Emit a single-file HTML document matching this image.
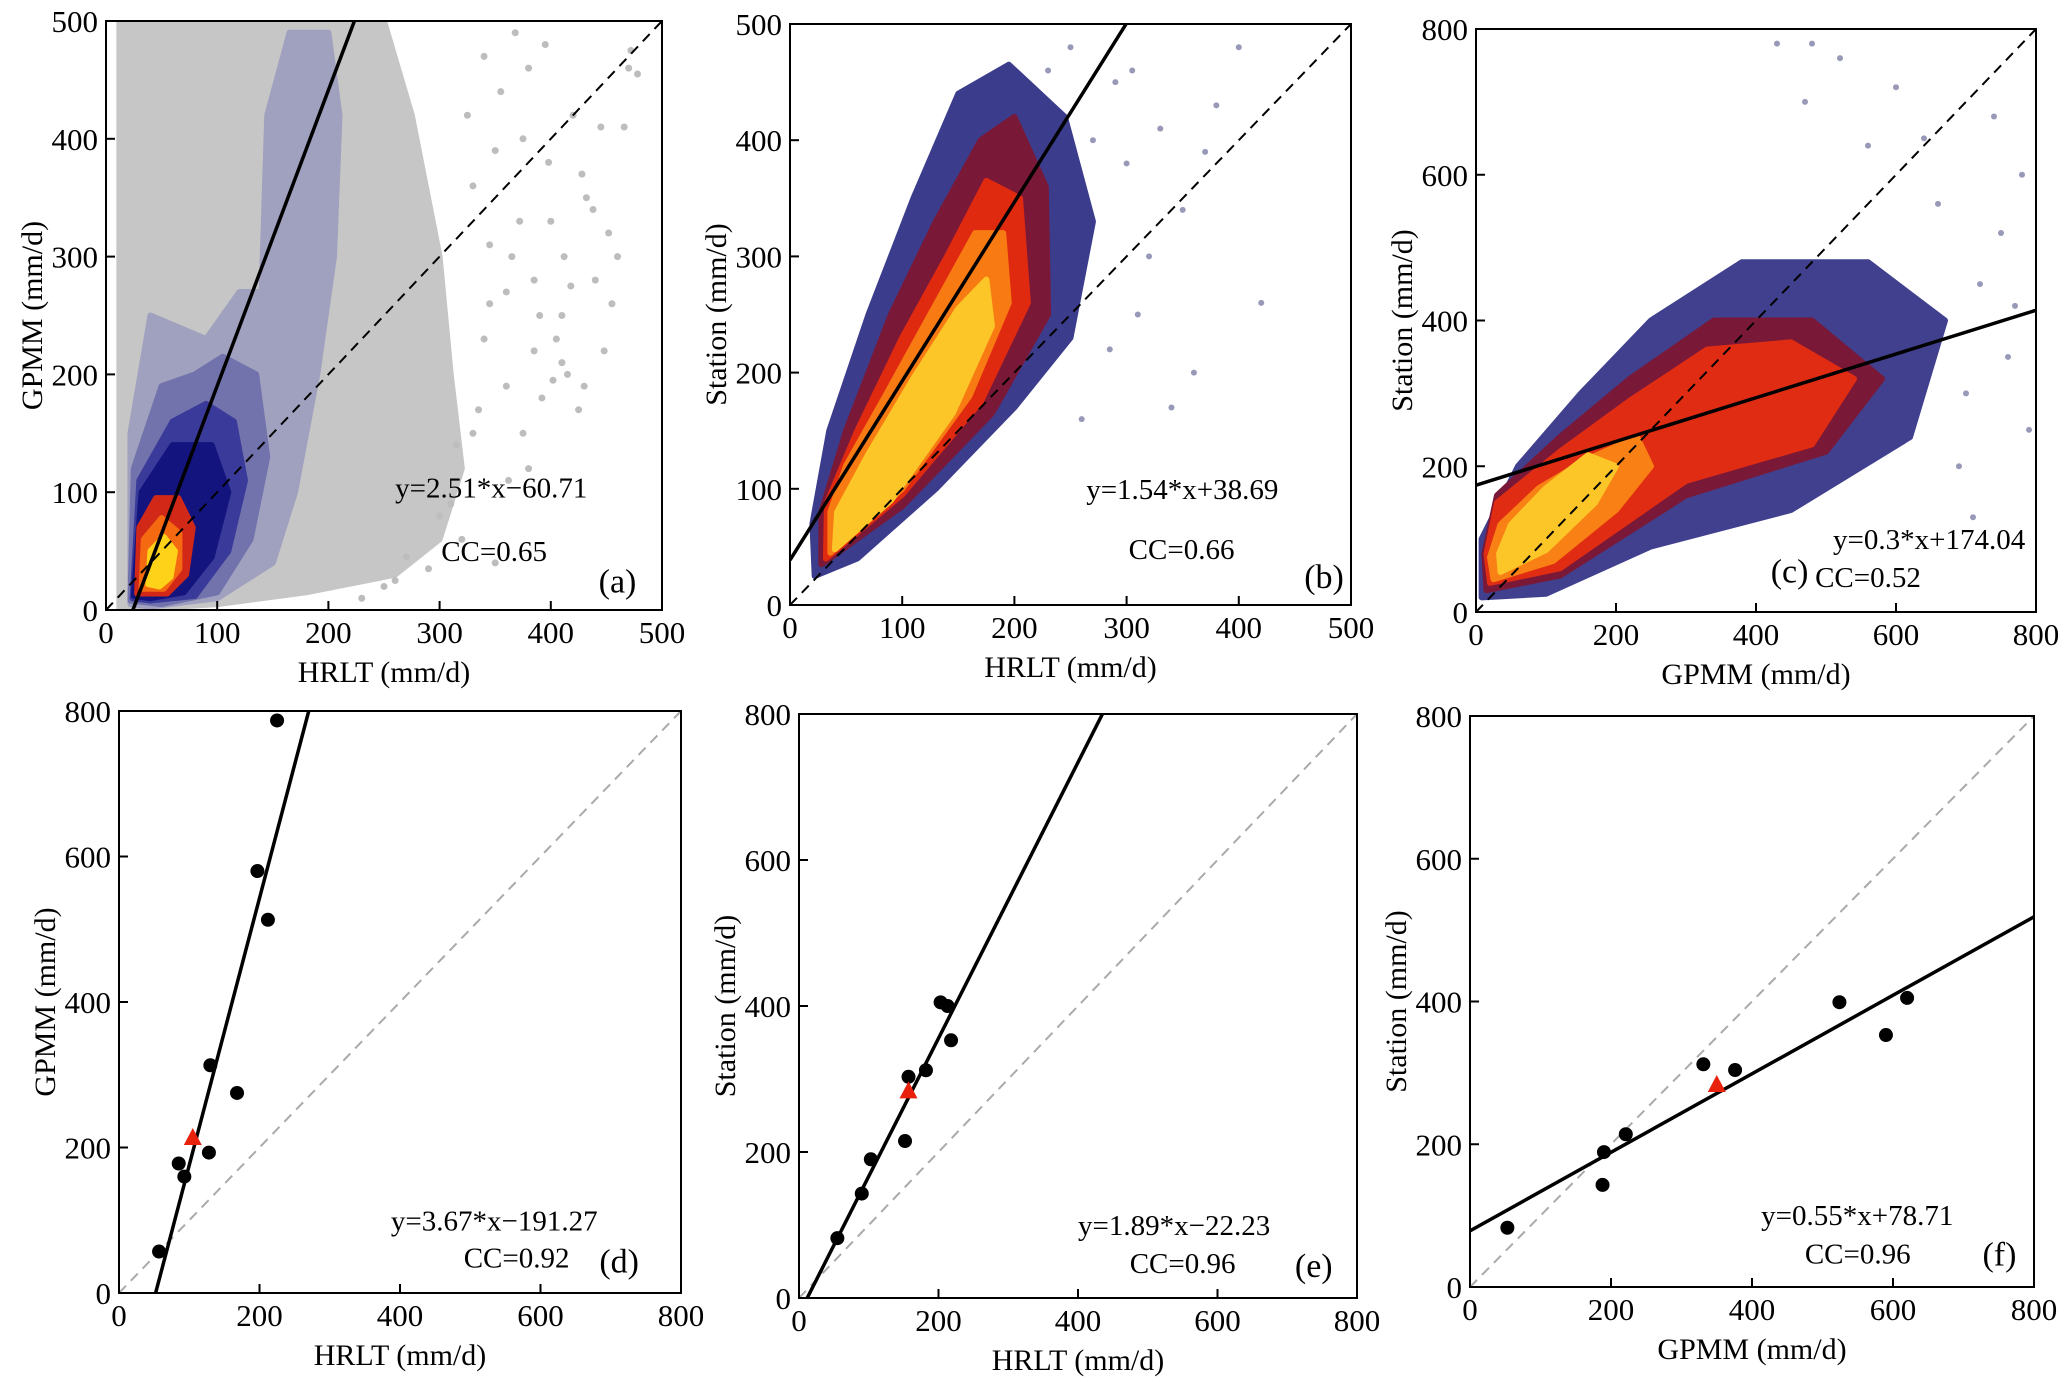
<!DOCTYPE html>
<html><head><meta charset="utf-8"><style>
html,body{margin:0;padding:0;background:#fff}
svg{display:block;font-family:"Liberation Serif",serif}
</style></head><body>
<svg id="fig" width="2067" height="1387" viewBox="0 0 2067 1387" xmlns="http://www.w3.org/2000/svg"></svg>
<script>
// ---------- data ----------
const panelLabels = ["(a)","(b)","(c)","(d)","(e)","(f)"];
const xTitles = ["HRLT (mm/d)","HRLT (mm/d)","GPMM (mm/d)","HRLT (mm/d)","HRLT (mm/d)","GPMM (mm/d)"];
const yTitles = ["GPMM (mm/d)","Station (mm/d)","Station (mm/d)","GPMM (mm/d)","Station (mm/d)","Station (mm/d)"];
const axisMax = [500,500,800,800,800,800];
const ticks500 = [0,100,200,300,400,500];
const ticks800 = [0,200,400,600,800];
const slopes = [2.51,1.54,0.3,3.67,1.89,0.55];
const intercepts = [-60.71,38.69,174.04,-191.27,-22.23,78.71];
const eqTexts = ["y=2.51*x\u221260.71","y=1.54*x+38.69","y=0.3*x+174.04","y=3.67*x\u2212191.27","y=1.89*x\u221222.23","y=0.55*x+78.71"];
const ccTexts = ["CC=0.65","CC=0.66","CC=0.52","CC=0.92","CC=0.96","CC=0.96"];

// station scatter (d,e,f)
const dX = [57,85,93,128,130,168,197,212,225];
const dY = [57,178,160,193,313,275,580,513,787];
const dTri = [105,213];
const eX = [55,90,103,152,157,182,203,213,218];
const eY = [82,143,190,215,303,312,405,400,353];
const eTri = [157,283];
const fX = [53,190,188,221,331,376,524,590,620];
const fY = [83,189,143,214,312,304,399,353,405];
const fTri = [350,283];

// density regions (data coordinates, x/y pairs)
const aGrey = [[12,0],[12,500],[250,500],[275,420],[300,300],[310,200],[320,120],[300,60],[260,30],[180,15],[100,5]];
const aLav = [[22,5],[22,150],[40,250],[90,230],[120,270],[140,270],[145,420],[165,490],[200,490],[210,420],[205,300],[190,200],[170,100],[150,40],[100,10],[40,3]];
const aBlue1 = [[22,8],[25,120],[50,190],[80,200],[105,215],[135,200],[145,130],[130,60],[100,15],[50,5]];
const aBlue2 = [[24,10],[30,110],[60,160],[90,175],[115,160],[125,110],[110,50],[80,12],[40,8]];
const aNavy = [[25,12],[32,100],[60,140],[95,140],[110,100],[95,45],[70,15],[40,10]];
const aRed = [[28,14],[30,70],[45,95],[65,95],[78,70],[72,30],[55,14]];
const aOrange = [[32,18],[34,60],[50,78],[66,65],[66,35],[52,18]];
const aYellow = [[38,22],[40,50],[52,62],[62,50],[58,28],[48,20]];
const aSparseX = [330,345,360,372,385,398,405,412,420,432,440,452,460,470,478,300,320,350,380,410,250,270,290,310,335,362,390,428,445,455,230,260,315,345,375,402,418,438,466,472,325,340,355,368,380,395,330,350,365,385,400,415,425,340,360,375,392,410,430,448];
const aSparseY = [150,260,190,330,280,380,230,300,420,350,280,320,300,460,455,80,60,40,120,210,20,45,35,90,170,110,250,370,410,260,10,25,140,310,400,195,275,340,410,475,420,470,440,490,460,480,360,390,300,220,330,200,170,230,270,150,180,250,190,220];

const bNavy = [[22,25],[60,40],[130,100],[200,170],[250,230],[270,330],[245,420],[195,465],[150,440],[110,350],[70,250],[35,150],[20,70]];
const bDark = [[28,35],[100,85],[180,165],[230,250],[228,360],[200,420],[170,400],[130,330],[90,250],[50,150],[28,80]];
const bRed = [[32,40],[100,95],[170,175],[212,260],[205,350],[175,365],[140,300],[100,230],[60,150],[33,88]];
const bOrange = [[36,45],[100,100],[160,180],[195,260],[190,320],[165,320],[125,250],[85,180],[50,120],[36,80]];
const bYellow = [[40,48],[90,90],[145,165],[180,240],[175,280],[150,255],[110,195],[70,130],[42,80]];
const bSparseX = [270,290,300,320,310,350,360,380,400,420,285,330,340,230,250,370,305,260];
const bSparseY = [400,450,380,300,250,340,200,430,480,260,220,410,170,460,480,390,460,160];

const cNavy = [[8,20],[100,25],[250,90],[450,140],[620,240],[670,400],[560,480],[380,480],[250,400],[150,300],[60,200],[8,100]];
const cDark = [[15,30],[120,50],[300,160],[500,220],[580,320],[480,400],[340,400],[220,320],[120,240],[30,160],[12,80]];
const cRed = [[20,40],[120,60],[300,180],[480,230],[540,320],[450,370],[330,360],[220,290],[120,220],[30,150],[15,80]];
const cOrange = [[25,45],[110,70],[200,140],[250,200],[230,240],[160,210],[90,170],[35,120],[20,75]];
const cYellow = [[35,55],[100,85],[170,150],[200,200],[160,215],[100,170],[50,120],[33,80]];
const cSparseX = [700,720,750,780,690,660,760,790,640,600,740,710,770,480,520,560,430,470];
const cSparseY = [300,450,520,600,200,560,350,250,650,720,680,130,420,780,760,640,780,700];

// ---------- layout ----------
const boxes = [
 {l:106,r:662,t:21,b:610},
 {l:790,r:1351,t:24,b:605},
 {l:1476,r:2036,t:29,b:612},
 {l:119,r:681,t:711,b:1293},
 {l:799,r:1357,t:714,b:1298},
 {l:1470,r:2034,t:716,b:1287}
];
// text positions in data coords: [eqx(start), eqy, ccx(center), ccy, labx(center), laby]
const textPos = [
 [260,104,349,50,460,25],
 [264,100,349,48,476,25],
 [510,100,560,48,448,57],
 [387,100,566,49,712,45],
 [400,100,550,48,738,45],
 [413,101,550,47,751,47]
];

const NS="http://www.w3.org/2000/svg";
const svg=document.getElementById('fig');
function mk(tag,attrs,parent){const e=document.createElementNS(NS,tag);for(const k in attrs)e.setAttribute(k,attrs[k]);(parent||svg).appendChild(e);return e;}

function drawPanel(i){
  const B=boxes[i], M=axisMax[i];
  const sx=v=>B.l+(v/M)*(B.r-B.l);
  const sy=v=>B.b-(v/M)*(B.b-B.t);
  const g=mk('g',{});
  
  
  const cid='clip'+i;
  const cp=mk('clipPath',{id:cid},g); mk('rect',{x:B.l,y:B.t,width:B.r-B.l,height:B.b-B.t},cp);
  const plot=mk('g',{'clip-path':'url(#'+cid+')'},g);
  const poly=(pts,fill,name)=>{const p=mk('polygon',{points:pts.map(q=>sx(q[0])+','+sy(q[1])).join(' '),fill:fill,stroke:fill,'stroke-width':6,'stroke-linejoin':'round'},plot);
    
    };
  const dots=(xs,ys,fill,r,name)=>{for(let k=0;k<xs.length;k++){const c=mk('circle',{cx:sx(xs[k]),cy:sy(ys[k]),r:r,fill:fill},plot);
    
    }};
  if(i===0){
    poly(aGrey,'#c6c6c6','density-grey');
    dots(aSparseX,aSparseY,'#bdbdbd',3.5,'sparse-point');
    poly(aLav,'#a0a0bf','density-level-1');
    poly(aBlue1,'#7272ac','density-level-2');
    poly(aBlue2,'#3a3a9a','density-level-3');
    poly(aNavy,'#14147e','density-level-4');
    poly(aRed,'#d22818','density-level-5');
    poly(aOrange,'#f56a10','density-level-6');
    poly(aYellow,'#ffd21a','density-level-7');
  } else if(i===1){
    dots(bSparseX,bSparseY,'#9898b8',3,'sparse-point');
    poly(bNavy,'#3c3c8c','density-level-1');
    poly(bDark,'#7a1838','density-level-2');
    poly(bRed,'#e02a10','density-level-3');
    poly(bOrange,'#f87a12','density-level-4');
    poly(bYellow,'#fcc628','density-level-5');
  } else if(i===2){
    dots(cSparseX,cSparseY,'#9898b8',3,'sparse-point');
    poly(cNavy,'#40408e','density-level-1');
    poly(cDark,'#7a1838','density-level-2');
    poly(cRed,'#e02c12','density-level-3');
    poly(cOrange,'#f88014','density-level-4');
    poly(cYellow,'#fcc628','density-level-5');
  }
  const diag=mk('line',{x1:sx(0),y1:sy(0),x2:sx(M),y2:sy(M),stroke:i>=3?'#aaaaaa':'#000','stroke-width':2,'stroke-dasharray':'10,7'},plot);
  
  
  const a=slopes[i],b=intercepts[i];
  let x0=0,x1=M;
  if(b<0)x0=-b/a;
  if(a*M+b>M)x1=(M-b)/a;
  const rl=mk('line',{x1:sx(x0),y1:sy(a*x0+b),x2:sx(x1),y2:sy(a*x1+b),stroke:'#000','stroke-width':3.5},plot);
  
  
  if(i>=3){
    const xs=[dX,eX,fX][i-3], ys=[dY,eY,fY][i-3], tr=[dTri,eTri,fTri][i-3];
    dots(xs,ys,'#000',7,'station-point');
    const tx=sx(tr[0]),ty=sy(tr[1]);
    const t=mk('polygon',{points:`${tx},${ty-10} ${tx-9},${ty+7} ${tx+9},${ty+7}`,fill:'#e8210c'},plot);
    
    
  }
  const fr=mk('rect',{x:B.l,y:B.t,width:B.r-B.l,height:B.b-B.t,fill:'none',stroke:'#000','stroke-width':2},g);
  
  
  const tk=M===500?ticks500:ticks800;
  tk.forEach(v=>{
    mk('line',{x1:sx(v),y1:B.b,x2:sx(v),y2:B.b-9,stroke:'#000','stroke-width':2},g);
    mk('line',{x1:B.l,y1:sy(v),x2:B.l+9,y2:sy(v),stroke:'#000','stroke-width':2},g);
    const xl=mk('text',{x:sx(v),y:B.b+33,'font-size':31,'text-anchor':'middle'},g);xl.textContent=v;
    
    
    const yl=mk('text',{x:B.l-8,y:sy(v)+11,'font-size':31,'text-anchor':'end'},g);yl.textContent=v;
    
    
  });
  const xt=mk('text',{x:(B.l+B.r)/2,y:B.b+72,'font-size':30,'text-anchor':'middle'},g);xt.textContent=xTitles[i];
  
  
  const yx=B.l-64;
  const yt=mk('text',{x:yx,y:(B.t+B.b)/2,'font-size':30,'text-anchor':'middle',transform:`rotate(-90 ${yx} ${(B.t+B.b)/2})`},g);yt.textContent=yTitles[i];
  
  
  const P=textPos[i];
  const eq=mk('text',{x:sx(P[0]),y:sy(P[1])+10,'font-size':29},g);eq.textContent=eqTexts[i];
  
  
  const cc=mk('text',{x:sx(P[2]),y:sy(P[3])+10,'font-size':29,'text-anchor':'middle'},g);cc.textContent=ccTexts[i];
  
  
  const pl=mk('text',{x:sx(P[4]),y:sy(P[5])+12,'font-size':34,'text-anchor':'middle'},g);pl.textContent=panelLabels[i];
  
  
}
for(let i=0;i<6;i++)drawPanel(i);
</script>
</body></html>
